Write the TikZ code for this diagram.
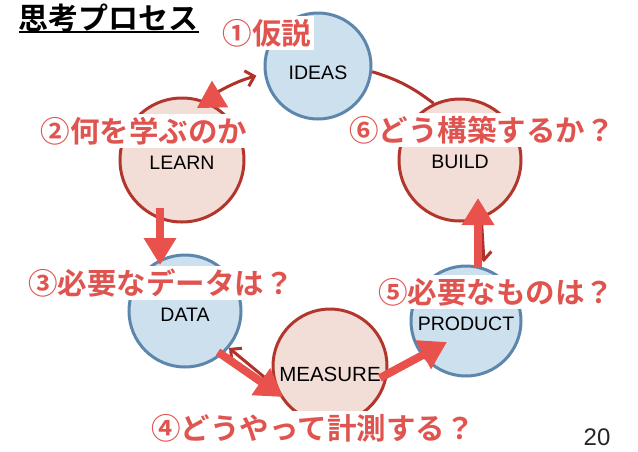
\documentclass[tikz,border=0pt]{standalone}
\usepackage{fontspec}
\setmainfont{Liberation Sans}
\newfontfamily\jpfont{Noto Sans CJK JP}[BoldFont={Noto Sans CJK JP Bold}]
\usetikzlibrary{arrows.meta, calc}
\definecolor{idea}{HTML}{CDE0EE}
\definecolor{ideaedge}{HTML}{5D86AC}
\definecolor{act}{HTML}{F2DED6}
\definecolor{actedge}{HTML}{B3362D}
\definecolor{loop}{HTML}{B0322A}
\definecolor{push}{HTML}{E8514C}
\definecolor{note}{HTML}{E05450}

\begin{document}
\begin{tikzpicture}[x=1pt, y=-1pt,
    stage/.style={circle, line width=3pt, inner sep=0pt, text=black, font=\fontsize{19.5}{21}\selectfont, text height=19pt},
    bs/.style={stage, draw=ideaedge, fill=idea},
    rs/.style={stage, draw=actedge, fill=act},
    ring/.style={draw=loop, line width=3pt},
    barb/.style={ring, -{Straight Barb[length=8pt, width=16pt]}},
    push/.style={draw=push, line width=8pt, -{Triangle[length=27pt, width=31pt]}},
    ask/.style={fill=white, text=note, inner sep=3pt, font=\jpfont\bfseries\fontsize{29.5}{32}\selectfont}]

  \path[use as bounding box, fill=white] (0,0) rectangle (638,451);

  \node[bs, minimum size=106pt, text height=28pt] (ideas) at (318,66) {IDEAS};
  \node[rs, minimum size=122pt, text height=18pt] (build) at (460,160) {BUILD};
  \node[bs, minimum size=110pt] (product) at (466,321) {PRODUCT};
  \node[rs, minimum size=114pt, font=\fontsize{20.5}{22}\selectfont, text height=32pt] (measure) at (330,366) {MEASURE};
  \node[bs, minimum size=112pt, text height=20pt] (data) at (185,311) {DATA};
  \node[rs, minimum size=124pt, text height=18pt] (learn) at (182,160) {LEARN};

  \draw[ring] (ideas.-6) to[bend left=10] (build.115);
  \draw[barb, shorten >=8pt] (learn.70) to[bend left=8] (ideas.188);
  \draw[barb] (measure.200) -- (data.-40);
  \draw[barb] (build.-70) -- ([shift={(18,-59)}]product.center);

  \draw[push, line width=1pt] ([shift={(38,-66)}]learn.center) -- ([shift={(15,-52)}]learn.center);
  \draw[push] ([shift={(-22,48)}]learn.center) -- ([shift={(-25,-46)}]data.center);
  \draw[push] ([shift={(33,41)}]data.center) -- ([shift={(-47,31)}]measure.center);
  \draw[push] ([shift={(50,12)}]measure.center) -- ([shift={(-19,21)}]product.center);
  \draw[push] ([shift={(12,-53)}]product.center) -- ([shift={(18,38)}]build.center);

  \node[ask] (q1) at (267,33) {①仮説};
  \node[ask] (q2) at (144,131) {②何を学ぶのか};
  \node[ask] (q6) at (482,130) {⑥どう構築するか？};
  \node[ask] (q3) at (161,283) {③必要なデータは？};
  \node[ask] (q5) at (496,292) {⑤必要なものは？};
  \node[ask] (q4) at (313,428) {④どうやって計測する？};

  \node[inner sep=0pt, font=\jpfont\bfseries\fontsize{30}{32}\selectfont] (title) at (109,18) {思考プロセス};
  \draw[line width=1.8pt] (title.south west) -- (title.south east);

  \node[text=black!85, font=\fontsize{24}{26}\selectfont] (page) at (597,437) {20};
\end{tikzpicture}
\end{document}
